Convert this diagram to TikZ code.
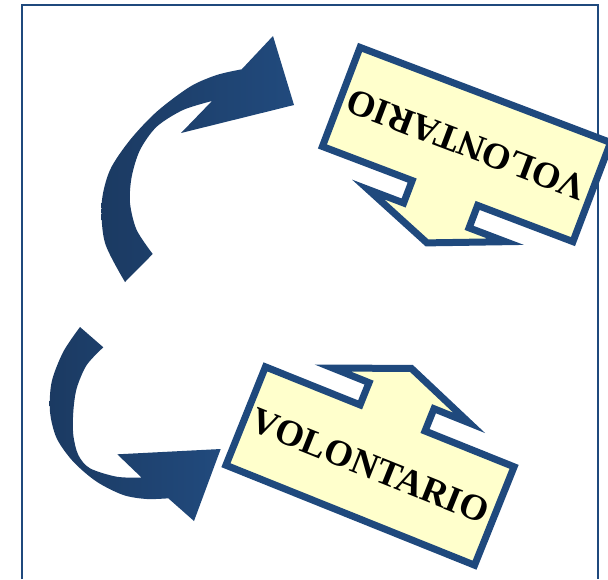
\documentclass[tikz,border=0pt]{standalone}
\usepackage{fontspec}
\setmainfont{Liberation Serif}

\definecolor{calloutblue}{HTML}{1F497D}
\definecolor{calloutfill}{HTML}{FFFFCC}
\definecolor{arrowdark}{HTML}{1B3A62}
\definecolor{arrowblue}{HTML}{214A7D}

\begin{document}
\begin{tikzpicture}[
    x=0.02cm, y=-0.02cm,
    frameline/.style={draw=calloutblue, line width=0.04cm},
    bluearrow/.style={left color=arrowdark, right color=arrowblue},
    callout/.style={draw=calloutblue, fill=calloutfill, line width=0.14cm},
    callouttext/.style={font=\fontsize{21}{25}\selectfont\bfseries, transform shape},
    volcallout/.pic={
        \path[callout] (-134,53) -- (-134,-53) -- (-32,-53) -- (-32,-77) -- (-71,-77) -- (2,-106)
            -- (76,-77) -- (38,-77) -- (38,-53) -- (134,-53) -- (134,53) -- cycle;
        \node[callouttext] (-txt) at (0,0) {VOLONTARIO};
    },
]
\useasboundingbox (0,0) rectangle (608,579);
\draw[frameline] (22,579) -- (22,5) -- (598,5) -- (598,579);

% curved arrows
\shade[bluearrow] plot[smooth] coordinates {(125,282) (105,243) (101.7,203) (110,170) (130,140) (156.7,111.7) (190,86.7) (216.7,75) (241.7,69.3)}
    -- (273,36) -- (294,105) -- (181,133) -- (212,101)
    -- plot[smooth] coordinates {(212,101) (183,110) (156.7,126.7) (140,150) (131.7,176.7) (130,203) (136.7,230) (152.7,254)} -- cycle;
\shade[bluearrow] plot[smooth] coordinates {(80,327) (63.3,351.7) (51.7,381.7) (50,411.7) (56.7,438.3) (73.3,461.7) (96.7,481.7) (123.3,495) (146.7,499) (168.3,498.3)}
    -- (194,521) -- (220.7,449) -- (117.3,454.3) -- (141.7,477.7)
    -- plot[smooth] coordinates {(141.7,477.7) (116.7,476.7) (90,468.3) (78.3,455) (73.3,435) (73.3,411.7) (76.7,388.3) (86.7,365) (103.3,347.3)} -- cycle;

% callouts
\pic[rotate=159.2] (upper) at (466.5,144.5) {volcallout};
\pic[rotate=-21.9] (lower) at (370,466) {volcallout};
\end{tikzpicture}
\end{document}
